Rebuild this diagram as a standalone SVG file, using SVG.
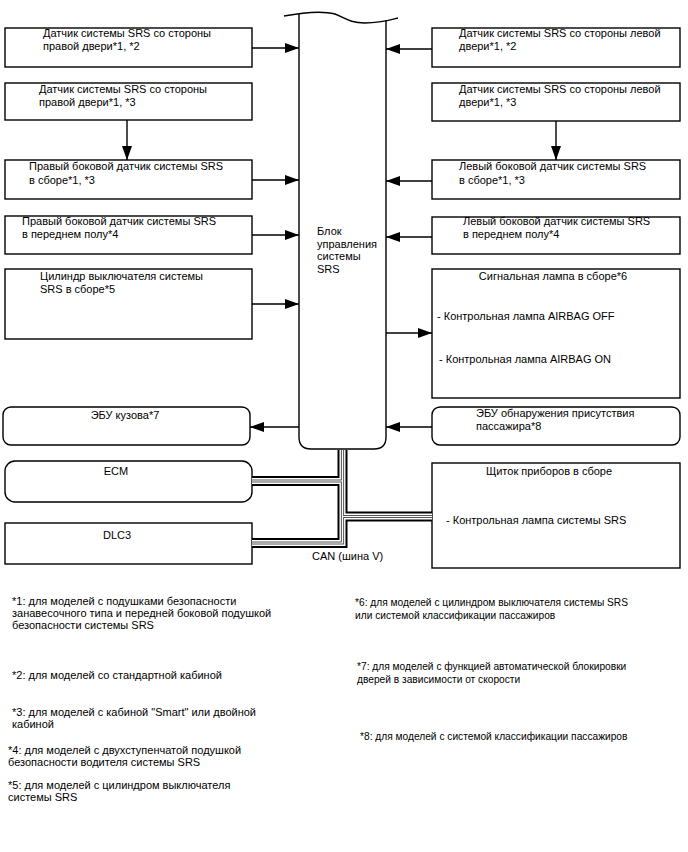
<svg xmlns="http://www.w3.org/2000/svg" width="688" height="852" viewBox="0 0 688 852">
<style>
text{font-family:"Liberation Sans",Arial,sans-serif;font-size:11px;fill:#000}
.sm{font-size:10.2px}
.box{fill:#fff;stroke:#000;stroke-width:1.4}
.ln{fill:none;stroke:#000;stroke-width:1.4}
.mid{text-anchor:middle}
.c1{fill:none;stroke:#000;stroke-width:10;stroke-linejoin:miter}
.c2{fill:none;stroke:#fff;stroke-width:6;stroke-linejoin:miter}
.c3{fill:none;stroke:#555;stroke-width:3.2;stroke-linejoin:miter}
.c4{fill:none;stroke:#fff;stroke-width:1.2;stroke-linejoin:miter}
</style>
<defs>
<marker id="ah" viewBox="0 0 14 10" refX="14" refY="5" markerWidth="14" markerHeight="10" orient="auto" markerUnits="userSpaceOnUse"><path d="M0,0 L14,5 L0,10 z" fill="#000"/></marker>
<path id="bus1" d="M342.5,450 V543 H252"/>
<path id="bus2" d="M342.5,481 H252"/>
<path id="bus3" d="M342.5,516.5 H432"/>
</defs>
<rect width="688" height="852" fill="#fff"/>

<g id="srs-ecu">
<path class="ln" d="M299,14 V437 Q299,449 311,449 H374 Q386,449 386,437 V20"/>
<path class="ln" d="M284,16 C300,13 320,10 335,14 C345,18 350,23 365,23 C380,23 390,20 398,18"/>
<text x="317" y="235">Блок</text>
<text x="317" y="248">управления</text>
<text x="317" y="260">системы</text>
<text x="317" y="273">SRS</text>
</g>

<g id="l1"><rect class="box" x="5" y="28" width="247" height="39"/>
<text x="43" y="37">Датчик системы SRS со стороны</text><text x="43" y="50">правой двери*1, *2</text></g>
<g id="l2"><rect class="box" x="5" y="83" width="247" height="37"/>
<text x="39" y="93">Датчик системы SRS со стороны</text><text x="39" y="106">правой двери*1, *3</text></g>
<g id="l3"><rect class="box" x="5" y="160" width="247" height="39"/>
<text x="29" y="170">Правый боковой датчик системы SRS</text><text x="29" y="184">в сборе*1, *3</text></g>
<g id="l4"><rect class="box" x="5" y="216" width="247" height="38"/>
<text x="22" y="225">Правый боковой датчик системы SRS</text><text x="22" y="238">в переднем полу*4</text></g>
<g id="l5"><rect class="box" x="5" y="269" width="247" height="70"/>
<text x="40" y="280">Цилиндр выключателя системы</text><text x="40" y="293">SRS в сборе*5</text></g>
<g id="body-ecu"><rect class="box" x="3" y="407" width="247" height="38" rx="8"/>
<text class="mid" x="125" y="419">ЭБУ кузова*7</text></g>
<g id="ecm"><rect class="box" x="5" y="461" width="247" height="41" rx="10"/>
<text class="mid" x="116" y="475">ECM</text></g>
<g id="dlc3"><rect class="box" x="5" y="523" width="247" height="41"/>
<text class="mid" x="117" y="539">DLC3</text></g>

<g id="r1"><rect class="box" x="432" y="28" width="248" height="39"/>
<text x="459" y="37">Датчик системы SRS со стороны левой</text><text x="459" y="50">двери*1, *2</text></g>
<g id="r2"><rect class="box" x="432" y="83" width="248" height="38"/>
<text x="459" y="93">Датчик системы SRS со стороны левой</text><text x="459" y="106">двери*1, *3</text></g>
<g id="r3"><rect class="box" x="432" y="160" width="248" height="39"/>
<text x="459" y="170">Левый боковой датчик системы SRS</text><text x="459" y="184">в сборе*1, *3</text></g>
<g id="r4"><rect class="box" x="432" y="217" width="248" height="37"/>
<text x="463" y="225">Левый боковой датчик системы SRS</text><text x="463" y="238">в переднем полу*4</text></g>
<g id="r5"><rect class="box" x="432" y="269" width="248" height="129"/>
<text class="mid" x="553" y="280">Сигнальная лампа в сборе*6</text>
<text x="437" y="320">- Контрольная лампа AIRBAG OFF</text>
<text x="439" y="363">- Контрольная лампа AIRBAG ON</text></g>
<g id="occupant-ecu"><rect class="box" x="432" y="407" width="248" height="38" rx="8"/>
<text x="476" y="417">ЭБУ обнаружения присутствия</text><text x="476" y="430">пассажира*8</text></g>
<g id="combination-meter"><rect class="box" x="432" y="463" width="248" height="105"/>
<text class="mid" x="549" y="475">Щиток приборов в сборе</text>
<text x="446" y="524">- Контрольная лампа системы SRS</text></g>

<g id="connectors">
<line class="ln" x1="252" y1="48" x2="299" y2="48" marker-end="url(#ah)"/>
<line class="ln" x1="127" y1="120" x2="127" y2="160" marker-end="url(#ah)"/>
<line class="ln" x1="252" y1="180" x2="299" y2="180" marker-end="url(#ah)"/>
<line class="ln" x1="252" y1="235" x2="299" y2="235" marker-end="url(#ah)"/>
<line class="ln" x1="252" y1="304" x2="299" y2="304" marker-end="url(#ah)"/>
<line class="ln" x1="299" y1="427" x2="250" y2="427" marker-end="url(#ah)"/>
<line class="ln" x1="432" y1="49" x2="386" y2="49" marker-end="url(#ah)"/>
<line class="ln" x1="556" y1="121" x2="556" y2="160" marker-end="url(#ah)"/>
<line class="ln" x1="432" y1="181" x2="386" y2="181" marker-end="url(#ah)"/>
<line class="ln" x1="432" y1="237" x2="386" y2="237" marker-end="url(#ah)"/>
<line class="ln" x1="386" y1="333" x2="432" y2="333" marker-end="url(#ah)"/>
<line class="ln" x1="432" y1="427" x2="386" y2="427" marker-end="url(#ah)"/>
<g id="can-bus">
<use href="#bus1" class="c1"/><use href="#bus2" class="c1"/><use href="#bus3" class="c1"/>
<use href="#bus1" class="c2"/><use href="#bus2" class="c2"/><use href="#bus3" class="c2"/>
<use href="#bus1" class="c3"/><use href="#bus2" class="c3"/><use href="#bus3" class="c3"/>
<use href="#bus1" class="c4"/><use href="#bus2" class="c4"/><use href="#bus3" class="c4"/>
</g>
<text x="312" y="560">CAN (шина V)</text>
</g>

<g id="notes">
<text x="12" y="605">*1: для моделей с подушками безопасности</text>
<text x="12" y="617">занавесочного типа и передней боковой подушкой</text>
<text x="12" y="629">безопасности системы SRS</text>
<text x="12" y="679">*2: для моделей со стандартной кабиной</text>
<text x="12" y="716">*3: для моделей с кабиной "Smart" или двойной</text>
<text x="12" y="728">кабиной</text>
<text x="8" y="754">*4: для моделей с двухступенчатой подушкой</text>
<text x="8" y="766">безопасности водителя системы SRS</text>
<text x="8" y="789">*5: для моделей с цилиндром выключателя</text>
<text x="8" y="801">системы SRS</text>
<text class="sm" x="355" y="606">*6: для моделей с цилиндром выключателя системы SRS</text>
<text class="sm" x="355" y="619">или системой классификации пассажиров</text>
<text class="sm" x="357" y="670">*7: для моделей с функцией автоматической блокировки</text>
<text class="sm" x="357" y="683">дверей в зависимости от скорости</text>
<text class="sm" x="360" y="740">*8: для моделей с системой классификации пассажиров</text>
</g>
</svg>
